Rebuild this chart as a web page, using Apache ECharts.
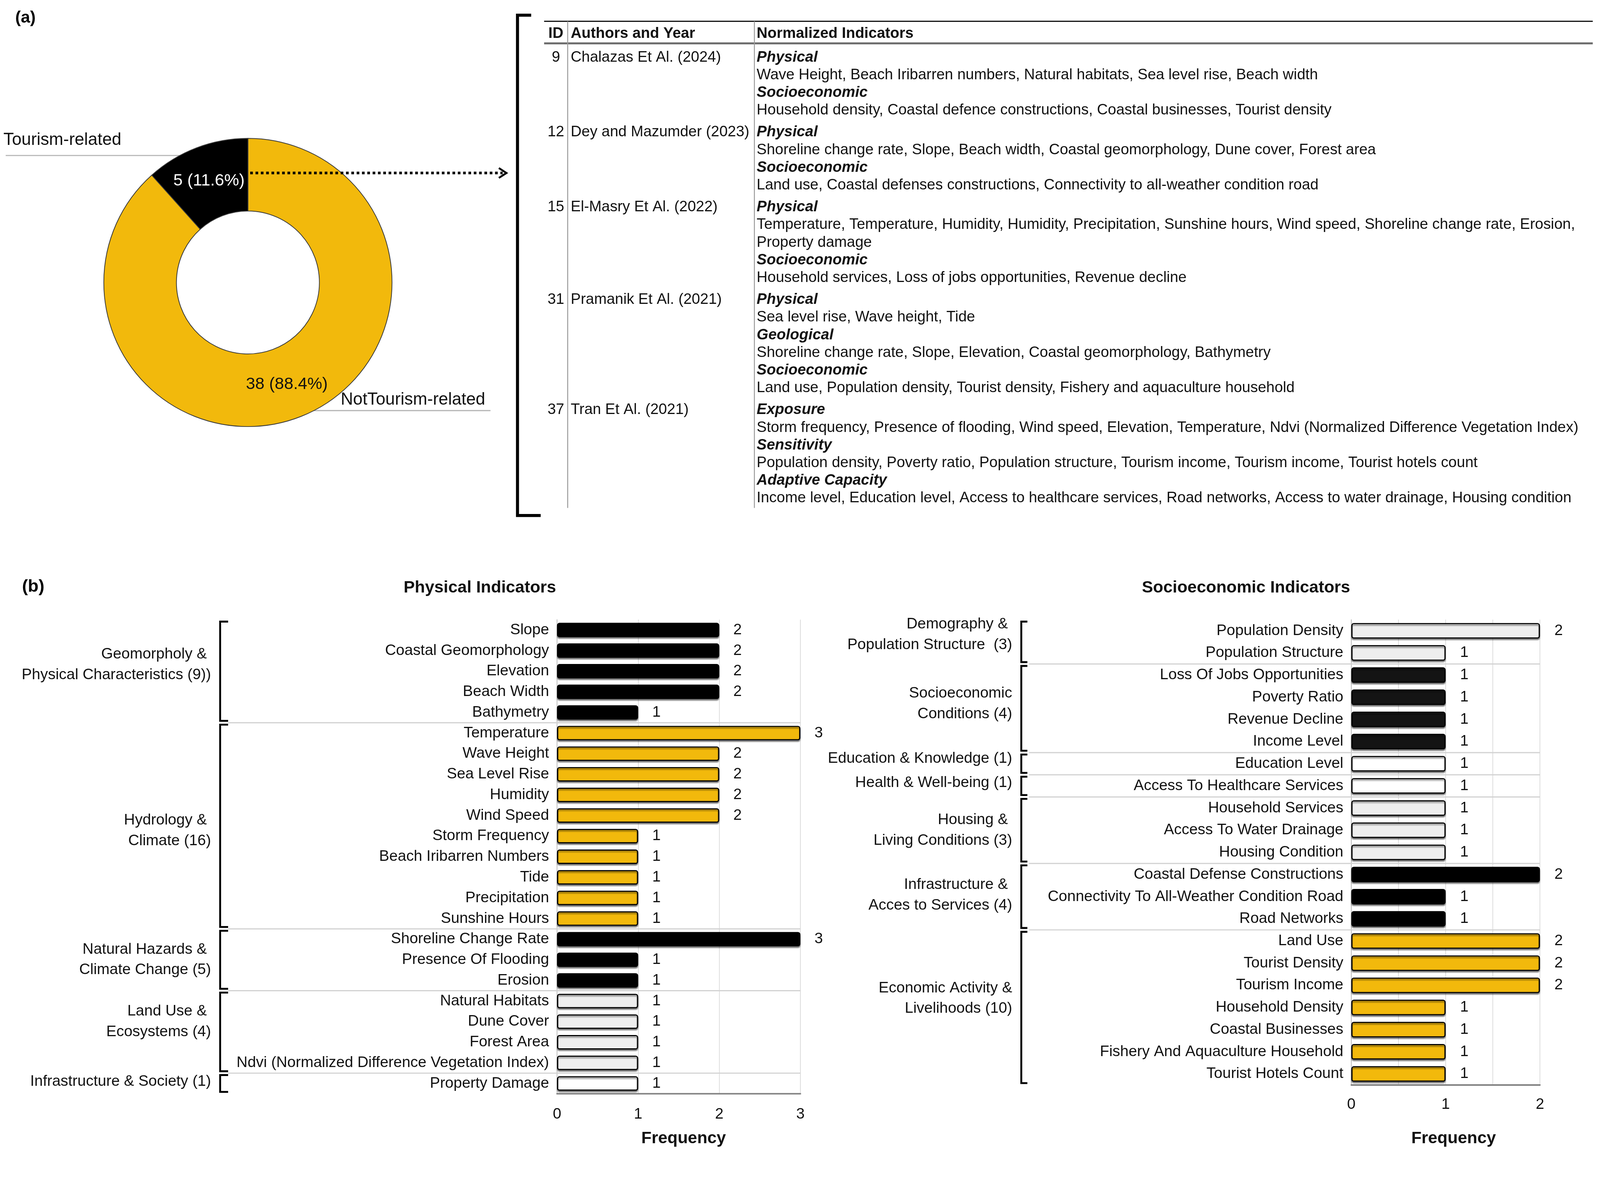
<!DOCTYPE html>
<html>
<head>
<meta charset="utf-8">
<script src="https://cdn.jsdelivr.net/npm/echarts@6/dist/echarts.min.js"></script>
<style>
html,body{margin:0;padding:0;background:#ffffff;overflow:hidden;}
#chart{width:4208px;height:3034px;transform-origin:0 0;}
</style>
</head>
<body>
<div id="chart"></div>
<script>
// ---------------- DATA ----------------
// (a) donut
const donutCategories = ['NotTourism-related', 'Tourism-related'];
const donutValues = [38, 5];

// (a) table
const tableHeaders = ['ID', 'Authors and Year', 'Normalized Indicators'];
const studyIds = [9, 12, 15, 31, 37];
const studyAuthors = ['Chalazas Et Al. (2024)', 'Dey and Mazumder (2023)', 'El-Masry Et Al. (2022)', 'Pramanik Et Al. (2021)', 'Tran Et Al. (2021)'];
const studySectionTitles = [
  ['Physical', 'Socioeconomic'],
  ['Physical', 'Socioeconomic'],
  ['Physical', 'Socioeconomic'],
  ['Physical', 'Geological', 'Socioeconomic'],
  ['Exposure', 'Sensitivity', 'Adaptive Capacity']
];
const studySectionLines = [
  [['Wave Height, Beach Iribarren numbers, Natural habitats, Sea level rise, Beach width'],
   ['Household density, Coastal defence constructions, Coastal businesses, Tourist density']],
  [['Shoreline change rate, Slope, Beach width, Coastal geomorphology, Dune cover, Forest area'],
   ['Land use, Coastal defenses constructions, Connectivity to all-weather condition road']],
  [['Temperature, Temperature, Humidity, Humidity, Precipitation, Sunshine hours, Wind speed, Shoreline change rate, Erosion,', 'Property damage'],
   ['Household services, Loss of jobs opportunities, Revenue decline']],
  [['Sea level rise, Wave height, Tide'],
   ['Shoreline change rate, Slope, Elevation, Coastal geomorphology, Bathymetry'],
   ['Land use, Population density, Tourist density, Fishery and aquaculture household']],
  [['Storm frequency, Presence of flooding, Wind speed, Elevation, Temperature, Ndvi (Normalized Difference Vegetation Index)'],
   ['Population density, Poverty ratio, Population structure, Tourism income, Tourism income, Tourist hotels count'],
   ['Income level, Education level, Access to healthcare services, Road networks, Access to water drainage, Housing condition']]
];

// (b) physical indicators
const physicalIndicators = ['Slope', 'Coastal Geomorphology', 'Elevation', 'Beach Width', 'Bathymetry',
  'Temperature', 'Wave Height', 'Sea Level Rise', 'Humidity', 'Wind Speed', 'Storm Frequency',
  'Beach Iribarren Numbers', 'Tide', 'Precipitation', 'Sunshine Hours',
  'Shoreline Change Rate', 'Presence Of Flooding', 'Erosion',
  'Natural Habitats', 'Dune Cover', 'Forest Area', 'Ndvi (Normalized Difference Vegetation Index)',
  'Property Damage'];
const physicalFrequency = [2, 2, 2, 2, 1, 3, 2, 2, 2, 2, 1, 1, 1, 1, 1, 3, 1, 1, 1, 1, 1, 1, 1];
const physicalGroupLabels = ['Geomorpholy & \nPhysical Characteristics (9))', 'Hydrology & \nClimate (16)',
  'Natural Hazards & \nClimate Change (5)', 'Land Use & \nEcosystems (4)', 'Infrastructure & Society (1)'];
const physicalGroupSizes = [5, 10, 3, 4, 1];
const physicalTicks = [0, 1, 2, 3];

// (b) socioeconomic indicators
const socioIndicators = ['Population Density', 'Population Structure',
  'Loss Of Jobs Opportunities', 'Poverty Ratio', 'Revenue Decline', 'Income Level',
  'Education Level', 'Access To Healthcare Services',
  'Household Services', 'Access To Water Drainage', 'Housing Condition',
  'Coastal Defense Constructions', 'Connectivity To All-Weather Condition Road', 'Road Networks',
  'Land Use', 'Tourist Density', 'Tourism Income', 'Household Density', 'Coastal Businesses',
  'Fishery And Aquaculture Household', 'Tourist Hotels Count'];
const socioFrequency = [2, 1, 1, 1, 1, 1, 1, 1, 1, 1, 1, 2, 1, 1, 2, 2, 2, 1, 1, 1, 1];
const socioGroupLabels = ['Demography & \nPopulation Structure  (3)', 'Socioeconomic\nConditions (4)',
  'Education & Knowledge (1)', 'Health & Well-being (1)', 'Housing & \nLiving Conditions (3)',
  'Infrastructure & \nAcces to Services (4)', 'Economic Activity &\nLivelihoods (10)'];
const socioGroupSizes = [2, 4, 1, 1, 3, 3, 7];
const socioTicks = [0, 1, 2];

// ---------------- STYLE / LAYOUT ----------------
const FONT = '"Liberation Sans", Arial, sans-serif';
const YELLOW = '#F2B90C';
const physicalGroupColors = ['#000000', YELLOW, '#000000', '#EEEEEE', '#FFFFFF'];
const socioGroupColors = ['#EEEEEE', '#141414', '#FFFFFF', '#FFFFFF', '#EEEEEE', '#000000', YELLOW];
const physicalGroupLabelDy = [-17, 13, 0, -27, -5];
const socioGroupLabelDy = [-19, -12, -13, -8, 0, -4, -24];
const donutColors = [YELLOW, '#000000'];
const donutLabelColors = ['#111111', '#FFFFFF'];

function expand(sizes, values) {
  const out = [];
  sizes.forEach((n, g) => { for (let k = 0; k < n; k++) out.push(values[g]); });
  return out;
}
const physicalColors = expand(physicalGroupSizes, physicalGroupColors);
const socioColors = expand(socioGroupSizes, socioGroupColors);

const barItemStyle = {
  borderColor: '#000', borderWidth: 3, borderRadius: 5,
  shadowColor: 'rgba(0,0,0,0.45)', shadowOffsetY: 4, shadowBlur: 3
};

// fit the 4208x3034 design into the real viewport
const W0 = 4208, H0 = 3034;
const vw = window.innerWidth || W0, vh = window.innerHeight || H0;
const K = Math.min(vw / W0, vh / H0);
const dom = document.getElementById('chart');
dom.style.transform = 'scale(' + K + ')';
const dpr = (window.devicePixelRatio || 1) * K;

const chart = echarts.init(dom, null, {renderer: 'canvas', width: W0, height: H0, devicePixelRatio: dpr});

const option = {
  animation: false,
  backgroundColor: '#ffffff',
  textStyle: {fontFamily: FONT},
  grid: [
    {left: 1465, top: 1630, width: 640, height: 1247, containLabel: false, outerBoundsMode: 'none'},
    {left: 3554, top: 1630, width: 496, height: 1224, containLabel: false, outerBoundsMode: 'none'}
  ],
  xAxis: [
    {
      gridIndex: 0, type: 'value', min: physicalTicks[0], max: physicalTicks[physicalTicks.length - 1], interval: 1,
      axisLine: {show: true, onZero: false, lineStyle: {color: '#808080', width: 4}},
      axisTick: {show: false},
      splitLine: {show: true, lineStyle: {color: '#dcdcdc', width: 2}},
      axisLabel: {fontSize: 40, color: '#111', margin: 34, fontFamily: FONT},
      name: 'Frequency', nameLocation: 'middle', nameGap: 96,
      nameTextStyle: {fontSize: 44, fontWeight: 'bold', color: '#111', fontFamily: FONT, padding: [0, 0, 0, 26]}
    },
    {
      gridIndex: 1, type: 'value', min: socioTicks[0], max: socioTicks[socioTicks.length - 1], interval: 0.5,
      axisLine: {show: true, onZero: false, lineStyle: {color: '#808080', width: 4}},
      axisTick: {show: false},
      splitLine: {show: true, lineStyle: {color: '#dcdcdc', width: 2}},
      axisLabel: {fontSize: 40, color: '#111', margin: 32, fontFamily: FONT,
        formatter: v => (socioTicks.indexOf(v) >= 0 ? String(v) : '')},
      name: 'Frequency', nameLocation: 'middle', nameGap: 119,
      nameTextStyle: {fontSize: 44, fontWeight: 'bold', color: '#111', fontFamily: FONT, padding: [0, 0, 0, 42]}
    }
  ],
  yAxis: [
    {
      gridIndex: 0, type: 'category', data: physicalIndicators, inverse: true,
      axisLine: {show: true, lineStyle: {color: '#bdbdbd', width: 2}},
      axisTick: {show: false}, splitLine: {show: false},
      axisLabel: {interval: 0, fontSize: 40, color: '#111', margin: 21, fontFamily: FONT}
    },
    {
      gridIndex: 1, type: 'category', data: socioIndicators, inverse: true,
      axisLine: {show: true, lineStyle: {color: '#bdbdbd', width: 2}},
      axisTick: {show: false}, splitLine: {show: false},
      axisLabel: {interval: 0, fontSize: 40, color: '#111', margin: 21, fontFamily: FONT}
    }
  ],
  series: [
    {
      type: 'pie', name: 'donut', center: [652, 743], radius: [188, 379],
      startAngle: 90, clockwise: true, percentPrecision: 1,
      emphasis: {disabled: true},
      itemStyle: {borderColor: '#3a3a3a', borderWidth: 2},
      label: {show: true, position: 'inside', formatter: '{c} ({d}%)', fontSize: 44, fontFamily: FONT},
      labelLine: {show: false},
      data: donutCategories.map((n, i) => ({
        name: n, value: donutValues[i],
        itemStyle: {color: donutColors[i]},
        label: {color: donutLabelColors[i]}
      }))
    },
    {
      type: 'pie', name: 'donutNames', center: [652, 743], radius: [188, 379],
      startAngle: 90, clockwise: true, silent: true,
      emphasis: {disabled: true},
      itemStyle: {color: 'rgba(0,0,0,0)', borderWidth: 0},
      label: {show: true, position: 'outside', formatter: '{b}', fontSize: 45, color: '#111', fontFamily: FONT},
      labelLine: {show: true, lineStyle: {color: '#b5b5b5', width: 3}},
      labelLayout: function (params) {
        if (params.dataIndex === 1) {
          return {x: 9, y: 369, align: 'left', verticalAlign: 'middle',
            labelLinePoints: [[527, 409], [300, 409], [15, 409]]};
        }
        return {x: 896, y: 1052, align: 'left', verticalAlign: 'middle',
          labelLinePoints: [[779, 1080], [1000, 1080], [1290, 1080]]};
      },
      data: donutCategories.map((n, i) => ({name: n, value: donutValues[i]}))
    },
    {
      type: 'bar', xAxisIndex: 0, yAxisIndex: 0, barWidth: '70%',
      emphasis: {disabled: true},
      itemStyle: barItemStyle,
      label: {show: true, position: 'right', distance: 37, fontSize: 40, color: '#111', fontFamily: FONT},
      data: physicalFrequency.map((v, i) => ({value: v, itemStyle: {color: physicalColors[i]}}))
    },
    {
      type: 'bar', xAxisIndex: 1, yAxisIndex: 1, barWidth: '70%',
      emphasis: {disabled: true},
      itemStyle: barItemStyle,
      label: {show: true, position: 'right', distance: 38, fontSize: 40, color: '#111', fontFamily: FONT},
      data: socioFrequency.map((v, i) => ({value: v, itemStyle: {color: socioColors[i]}}))
    }
  ]
};

chart.setOption(option);

// ---------------- GRAPHIC OVERLAYS ----------------
const g = [];
function txt(x, y, text, font, align, vAlign, fill, lineHeight) {
  const style = {text: text, font: font, fill: fill || '#111',
    align: align || 'left', verticalAlign: vAlign || 'middle',
    textAlign: align || 'left', textVerticalAlign: vAlign || 'middle'};
  if (lineHeight) style.lineHeight = lineHeight;
  g.push({type: 'text', x: x, y: y, z: 100, silent: true, style: style});
}
function line(x1, y1, x2, y2, stroke, w, dash) {
  const style = {stroke: stroke, lineWidth: w};
  if (dash) style.lineDash = dash;
  g.push({type: 'line', z: 100, silent: true, shape: {x1: x1, y1: y1, x2: x2, y2: y2}, style: style});
}
function poly(points, stroke, w) {
  g.push({type: 'polyline', z: 100, silent: true, shape: {points: points}, style: {stroke: stroke, lineWidth: w, fill: null}});
}

// panel labels
txt(40, 47, '(a)', 'bold 44px ' + FONT, 'left', 'middle', '#000');
txt(58, 1544, '(b)', 'bold 46px ' + FONT, 'left', 'middle', '#000');

// dotted arrow
line(658, 455, 1322, 455, '#000', 7, [7, 7]);
poly([[1312, 442], [1332, 455], [1312, 468]], '#000', 5);

// table frame
poly([[1397, 40], [1361, 40], [1361, 1356], [1422, 1356]], '#000', 8);
line(1431, 56, 4189, 56, '#111', 3);
line(1431, 114, 4189, 114, '#6b6b6b', 5);
line(1493, 56, 1493, 1336, '#9a9a9a', 2.5);
line(1984, 56, 1984, 1336, '#9a9a9a', 2.5);

// table text
const TF = 39.5;
txt(1462, 89, tableHeaders[0], 'bold ' + TF + 'px ' + FONT, 'center');
txt(1501, 89, tableHeaders[1], 'bold ' + TF + 'px ' + FONT, 'left');
txt(1990, 89, tableHeaders[2], 'bold ' + TF + 'px ' + FONT, 'left');
const LH = 46.4, ROWGAP = 11.5;
let yCur = 151;
studyIds.forEach((id, r) => {
  txt(1462, yCur, String(id), TF + 'px ' + FONT, 'center');
  txt(1501, yCur, studyAuthors[r], TF + 'px ' + FONT, 'left');
  let y = yCur;
  studySectionTitles[r].forEach((title, s) => {
    txt(1990, y, title, 'italic bold ' + TF + 'px ' + FONT, 'left');
    y += LH;
    studySectionLines[r][s].forEach(l => { txt(1990, y, l, TF + 'px ' + FONT, 'left'); y += LH; });
  });
  yCur = y + ROWGAP;
});

// titles of (b)
txt(1262, 1546, 'Physical Indicators', 'bold 44px ' + FONT, 'center');
txt(3277, 1546, 'Socioeconomic Indicators', 'bold 44px ' + FONT, 'center');

// group brackets, separators and labels from the category scales
function groups(gridIndex, sizes, labels, dys, maxVal, bracketX, tick, labelRight, sepStartX) {
  const cy = i => chart.convertToPixel({gridIndex: gridIndex}, [0, i])[1];
  const band = cy(1) - cy(0);
  const xEnd = chart.convertToPixel({gridIndex: gridIndex}, [maxVal, 0])[0];
  let start = 0;
  sizes.forEach((n, k) => {
    const top = cy(start) - band / 2;
    const bottom = cy(start + n - 1) + band / 2;
    poly([[bracketX + tick, top + 5], [bracketX, top + 5], [bracketX, bottom - 5], [bracketX + tick, bottom - 5]], '#000', 5);
    if (k > 0) line(sepStartX, top, xEnd, top, '#d2d2d2', 3);
    txt(labelRight, (top + bottom) / 2 + dys[k], labels[k], '40px ' + FONT, 'right', 'middle', '#111', 54);
    start += n;
  });
}
groups(0, physicalGroupSizes, physicalGroupLabels, physicalGroupLabelDy, physicalTicks[physicalTicks.length - 1], 579, 21, 555, 600);
groups(1, socioGroupSizes, socioGroupLabels, socioGroupLabelDy, socioTicks[socioTicks.length - 1], 2686, 16, 2662, 2706);

chart.setOption({graphic: {elements: g}});
</script>
</body>
</html>
